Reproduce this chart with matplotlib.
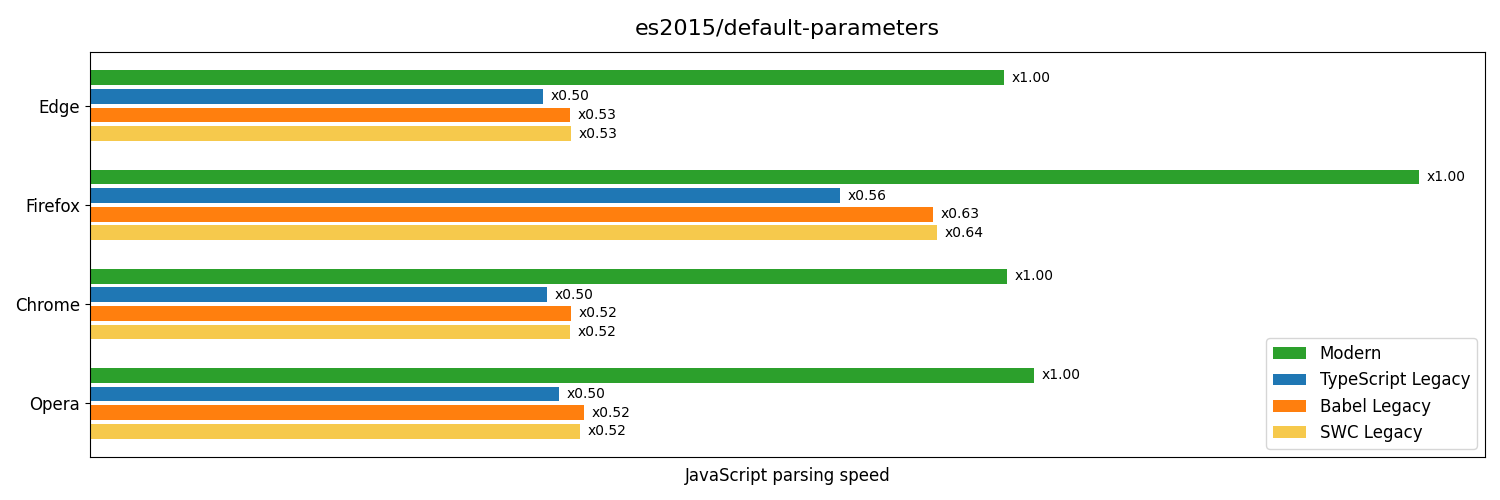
import matplotlib
matplotlib.use("Agg")
import matplotlib.pyplot as plt
import numpy as np

browsers = ["Edge", "Firefox", "Chrome", "Opera"]
series = ["Modern", "TypeScript Legacy", "Babel Legacy", "SWC Legacy"]
colors = ["#2ca02c", "#1f77b4", "#ff7f0e", "#f6c94c"]

# parsing speed (relative units) per browser, per series
modern = [914, 1329, 917, 944]
typescript = [453, 750, 457, 469]
babel = [480, 843, 481, 494]
swc = [481, 847, 480, 490]

# ratio labels relative to Modern
modern_ratio = [1.00, 1.00, 1.00, 1.00]
typescript_ratio = [0.50, 0.56, 0.50, 0.50]
babel_ratio = [0.53, 0.63, 0.52, 0.52]
swc_ratio = [0.53, 0.64, 0.52, 0.52]

values = [modern, typescript, babel, swc]
ratios = [modern_ratio, typescript_ratio, babel_ratio, swc_ratio]

fig, ax = plt.subplots(figsize=(15, 5), dpi=100)
fig.subplots_adjust(left=0.06, right=0.99, top=0.896, bottom=0.086)

pitch = 0.1875
height = 0.15
y = np.arange(len(browsers))
for i, (name, vals, rats, col) in enumerate(zip(series, values, ratios, colors)):
    pos = y + (i - 1.5) * pitch
    bars = ax.barh(pos, vals, height=height, color=col, label=name)
    for b, r in zip(bars, rats):
        ax.annotate(f"x{r:.2f}", (b.get_width(), b.get_y() + b.get_height() / 2),
                    xytext=(5.5, 0), textcoords="offset points",
                    va="center", ha="left", fontsize=10)

ax.set_yticks(y)
ax.set_yticklabels(browsers, fontsize=12)
ax.invert_yaxis()
ax.set_xticks([])
ax.set_xlim(0, max(max(v) for v in values) * 1.05)
ax.set_xlabel("JavaScript parsing speed", fontsize=12, labelpad=7)
ax.set_title("es2015/default-parameters", fontsize=16, pad=12)
ax.legend(loc="lower right", fontsize=12)

fig.savefig("out.png", dpi=100)
